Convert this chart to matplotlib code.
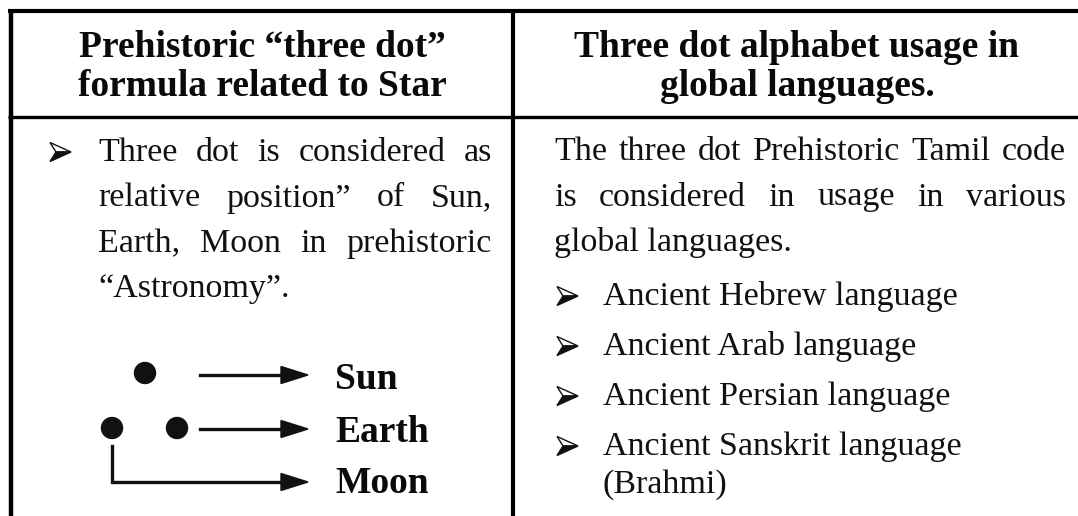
import matplotlib.pyplot as plt
from matplotlib.patches import Circle, Polygon

# table text
header_left = ["Prehistoric \u201cthree dot\u201d", "formula related to Star"]
header_right = ["Three dot alphabet usage in", "global languages."]
left_lines = ["Three dot is considered as",
              "relative position\u201d of Sun,",
              "Earth, Moon in prehistoric",
              "\u201cAstronomy\u201d."]
right_intro = ["The three dot Prehistoric Tamil code",
               "is considered in usage in various",
               "global languages."]
right_bullets = ["Ancient Hebrew language",
                 "Ancient Arab language",
                 "Ancient Persian language",
                 "Ancient Sanskrit language"]
bullet_tail = "(Brahmi)"
diagram_labels = ["Sun", "Earth", "Moon"]

W, H = 1078, 516
SERIF = ['Liberation Serif', 'DejaVu Serif']

fig = plt.figure(figsize=(W / 100, H / 100), dpi=100)
ax = fig.add_axes([0, 0, 1, 1])
ax.set_xlim(0, W)
ax.set_ylim(H, 0)
ax.axis('off')
rend = fig.canvas.get_renderer()

body = dict(family=SERIF, fontsize=24.5, color='#111111', va='baseline')
bold = dict(family=SERIF, fontsize=27, weight='bold', color='#0a0a0a', va='baseline')


def line_text(x0, x1, y, s, justify, **kw):
    words = s.split()
    if not justify or len(words) < 2:
        ax.text(x0, y, s, **kw)
        return
    ts = [ax.text(0, y, w, **kw) for w in words]
    ws = [t.get_window_extent(renderer=rend).width for t in ts]
    gap = (x1 - x0 - sum(ws)) / (len(words) - 1)
    x = x0
    for t, w in zip(ts, ws):
        t.set_x(x)
        x += w + gap


def bullet(x, y):
    # 3D arrowhead bullet, centred a bit above the baseline
    cy = y - 9
    tip, notch = (x + 21, cy), (x + 6, cy)
    ax.add_patch(Polygon([tip, (x, cy - 9.5), notch], closed=True,
                         facecolor='white', edgecolor='#111111', lw=1.0))
    ax.add_patch(Polygon([tip, notch, (x, cy + 9.5)], closed=True,
                         facecolor='#111111', edgecolor='#111111', lw=1.0))


# grid lines
ax.plot([8, W], [11, 11], color='black', lw=3, solid_capstyle='butt')
ax.plot([8, W], [116.5, 116.5], color='black', lw=2.4, solid_capstyle='butt')
ax.plot([10.5, 10.5], [9, H], color='black', lw=3.2, solid_capstyle='butt')
ax.plot([512.5, 512.5], [9, H], color='black', lw=3, solid_capstyle='butt')

# headers
for i, s in enumerate(header_left):
    ax.text(262, 57 + 39 * i, s, ha='center', **bold)
for i, s in enumerate(header_right):
    ax.text(797, 57 + 39 * i, s, ha='center', **bold)

# left body
bullet(50, 161)
for i, s in enumerate(left_lines):
    line_text(98, 492, 161 + 45.5 * i, s, i < len(left_lines) - 1, **body)

# right body
for i, s in enumerate(right_intro):
    line_text(554, 1066, 160 + 45.5 * i, s, i < len(right_intro) - 1, **body)
for i, s in enumerate(right_bullets):
    y = 305 + 50 * i
    bullet(557, y)
    ax.text(603, y, s, **body)
ax.text(603, 305 + 50 * (len(right_bullets) - 1) + 38, bullet_tail, **body)

# three dot diagram
for cx, cy in [(145, 373), (112, 428), (177, 428)]:
    ax.add_patch(Circle((cx, cy), 10.5, color='#111111'))


def arrow_to(xs, ys):
    ax.plot(xs[:-1] + [xs[-1] - 20], ys, color='#111111', lw=2.4, solid_joinstyle='miter')
    xe, ye = xs[-1], ys[-1]
    ax.add_patch(Polygon([(xe, ye), (xe - 27, ye - 8.5), (xe - 27, ye + 8.5)],
                         closed=True, color='#111111'))


arrow_to([200, 308], [375, 375])
arrow_to([200, 308], [429, 429])
arrow_to([112, 112, 308], [446, 482, 482])

label_y = [389, 442, 493]
for s, y in zip(diagram_labels, label_y):
    ax.text(335, y, s, **bold)

fig.savefig('out.png', dpi=100, facecolor='white')
